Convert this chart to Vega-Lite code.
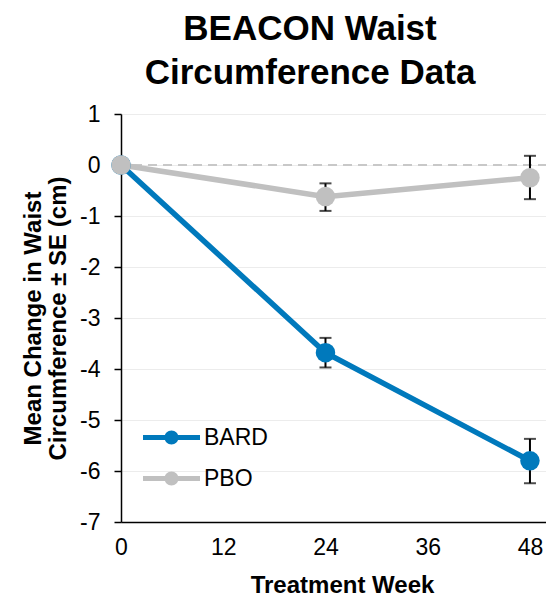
{
  "$schema": "https://vega.github.io/schema/vega-lite/v6.json",
  "width": 426,
  "height": 408,
  "autosize": "none",
  "padding": {"left": 121, "top": 114, "right": 0, "bottom": 75},
  "background": "white",
  "config": {
    "font": "Liberation Sans",
    "view": {"stroke": null},
    "axis": {"domainColor": "black", "domainWidth": 1.5, "tickColor": "black", "tickWidth": 1.5, "labelColor": "black", "titleColor": "black", "labelFont": "Liberation Sans", "titleFont": "Liberation Sans"}
  },
  "title": {
    "text": ["BEACON Waist", "Circumference Data"],
    "fontSize": 35,
    "fontWeight": "bold",
    "font": "Liberation Sans",
    "color": "black",
    "lineHeight": 44,
    "anchor": "middle",
    "baseline": "bottom",
    "dx": -24,
    "offset": -23
  },
  "datasets": {
    "series": [
      {"week": 0, "group": "BARD", "mean": 0},
      {"week": 24, "group": "BARD", "mean": -3.68},
      {"week": 48, "group": "BARD", "mean": -5.8},
      {"week": 0, "group": "PBO", "mean": 0},
      {"week": 24, "group": "PBO", "mean": -0.62},
      {"week": 48, "group": "PBO", "mean": -0.25}
    ],
    "errors": [
      {"week": 24, "group": "BARD", "lo": -3.97, "hi": -3.39},
      {"week": 48, "group": "BARD", "lo": -6.24, "hi": -5.37},
      {"week": 24, "group": "PBO", "lo": -0.9, "hi": -0.36},
      {"week": 48, "group": "PBO", "lo": -0.67, "hi": 0.18}
    ],
    "zero": [{"y": 0}]
  },
  "layer": [
    {
      "data": {"name": "zero"},
      "mark": {"type": "rule", "color": "#c8c8c8", "strokeWidth": 2, "strokeDash": [9, 6]},
      "encoding": {"y": {"field": "y", "type": "quantitative", "scale": {"domain": [-7, 1]}}}
    },
    {
      "data": {"name": "errors"},
      "mark": {"type": "rule", "color": "black", "strokeWidth": 2},
      "encoding": {
        "x": {"field": "week", "type": "quantitative"},
        "y": {"field": "lo", "type": "quantitative"},
        "y2": {"field": "hi"}
      }
    },
    {
      "data": {"name": "errors"},
      "mark": {"type": "tick", "orient": "horizontal", "color": "black", "thickness": 2, "size": 12},
      "encoding": {
        "x": {"field": "week", "type": "quantitative"},
        "y": {"field": "lo", "type": "quantitative"}
      }
    },
    {
      "data": {"name": "errors"},
      "mark": {"type": "tick", "orient": "horizontal", "color": "black", "thickness": 2, "size": 12},
      "encoding": {
        "x": {"field": "week", "type": "quantitative"},
        "y": {"field": "hi", "type": "quantitative"}
      }
    },
    {
      "data": {"name": "series"},
      "mark": {"type": "line", "strokeWidth": 5.5},
      "encoding": {
        "x": {
          "field": "week", "type": "quantitative",
          "scale": {"domain": [0, 50], "nice": false, "zero": false},
          "axis": {"values": [0, 12, 24, 36, 48], "ticks": false, "grid": false, "labelFontSize": 23, "labelPadding": 14, "labelFlush": false, "title": "Treatment Week", "titleFontSize": 24, "titleFontWeight": "bold", "titleX": 221, "titleY": 70, "titleBaseline": "alphabetic", "titleAnchor": "middle"}
        },
        "y": {
          "field": "mean", "type": "quantitative",
          "scale": {"domain": [-7, 1], "nice": false},
          "axis": {"values": [-7, -6, -5, -4, -3, -2, -1, 0, 1], "tickSize": 7, "labelFontSize": 23, "labelPadding": 14, "labelExpr": "datum.value + ''", "grid": true, "gridColor": "#ececec", "gridWidth": 1.2, "title": ["Mean Change in Waist", "Circumference ± SE (cm)"], "titleFontSize": 24, "titleFontWeight": "bold", "titleLineHeight": 25, "titleAngle": -90, "titleX": -81, "titleY": 204, "titleAlign": "center", "titleBaseline": "alphabetic"}
        },
        "color": {
          "field": "group", "type": "nominal",
          "scale": {"domain": ["BARD", "PBO"], "range": ["#0079bc", "#c0c0c0"]}
        }
      }
    },
    {
      "data": {"name": "series"},
      "mark": {"type": "point", "filled": true, "size": 380, "opacity": 1},
      "encoding": {
        "x": {"field": "week", "type": "quantitative"},
        "y": {"field": "mean", "type": "quantitative"},
        "color": {
          "field": "group", "type": "nominal",
          "legend": {
            "title": null,
            "orient": "none",
            "legendX": 22,
            "legendY": 295,
            "padding": 0,
            "symbolType": "M-1,-0.088L1,-0.088L1,0.088L-1,0.088Z M0.246,0 A0.246,0.246 0 1,1 -0.246,0 A0.246,0.246 0 1,1 0.246,0 Z",
            "symbolSize": 3249,
            "symbolStrokeWidth": 0,
            "symbolOpacity": 1,
            "labelFontSize": 23,
            "labelColor": "black",
            "labelOffset": 4,
            "rowPadding": -13,
            "labelFont": "Liberation Sans",
            "encode": {"symbols": {"update": {"fill": {"scale": "color", "field": "value"}, "stroke": {"value": "transparent"}, "opacity": {"value": 1}}}}
          }
        }
      }
    }
  ]
}
